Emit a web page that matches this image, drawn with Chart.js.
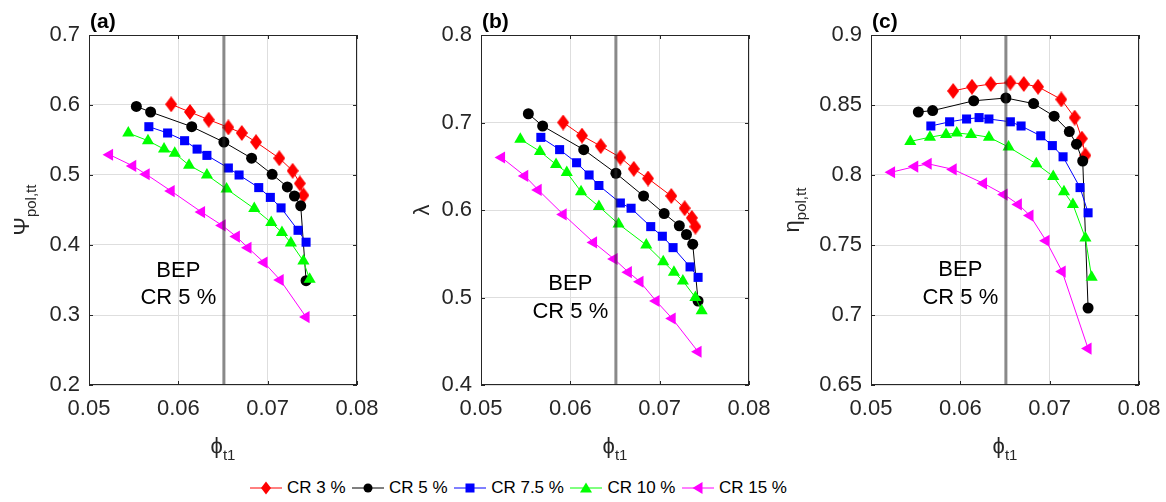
<!DOCTYPE html>
<html>
<head>
<meta charset="utf-8">
<script src="https://cdn.jsdelivr.net/npm/chart.js@4.4.0/dist/chart.umd.min.js"></script>
<style>
  body { margin: 0; background: #fff; width: 1166px; height: 502px; overflow: hidden; position: relative;
         font-family: "Liberation Sans", Arial, sans-serif; }
  canvas { position: absolute; top: 0; }
  #legend { position: absolute; left: 250px; top: 476px; height: 24px; display: flex; align-items: center;
            font-size: 17px; color: #000; white-space: nowrap; }
  #legend .item { display: flex; align-items: center; margin-right: 6.5px; }
  #legend svg { margin-right: 5px; }
</style>
</head>
<body>
<canvas id="pa" width="380" height="460" style="left:0px"></canvas>
<canvas id="pb" width="380" height="460" style="left:392px"></canvas>
<canvas id="pc" width="380" height="460" style="left:782px"></canvas>
<div id="legend"></div>

<script>
// axes
const xTicks = [0.05, 0.06, 0.07, 0.08];
const psiTicks = [0.2, 0.3, 0.4, 0.5, 0.6, 0.7];
const lambdaTicks = [0.4, 0.5, 0.6, 0.7, 0.8];
const etaTicks = [0.65, 0.7, 0.75, 0.8, 0.85, 0.9];

const seriesNames = ["CR 3 %", "CR 5 %", "CR 7.5 %", "CR 10 %", "CR 15 %"];
const bepPhi = 0.0651;

// flow coefficient phi_t1 of each operating point
const phiCR3  = [0.0592, 0.0613, 0.0634, 0.0656, 0.0671, 0.0687, 0.0713, 0.0728, 0.0736, 0.0740];
const phiCR5  = [0.0553, 0.0569, 0.0615, 0.0651, 0.0682, 0.0705, 0.0722, 0.0730, 0.0737, 0.0743];
const phiCR75 = [0.0567, 0.0588, 0.0607, 0.0621, 0.0632, 0.0656, 0.0668, 0.0690, 0.0703, 0.0715, 0.0734, 0.0743];
const phiCR10 = [0.0544, 0.0566, 0.0584, 0.0596, 0.0612, 0.0632, 0.0654, 0.0685, 0.0704, 0.0716, 0.0726, 0.0740, 0.0747];
const phiCR15 = [0.0523, 0.0549, 0.0564, 0.0592, 0.0626, 0.0649, 0.0665, 0.0678, 0.0696, 0.0714, 0.0743];

// (a) polytropic head coefficient
const psiCR3  = [0.601, 0.590, 0.579, 0.568, 0.560, 0.547, 0.524, 0.506, 0.488, 0.471];
const psiCR5  = [0.598, 0.590, 0.569, 0.547, 0.524, 0.501, 0.483, 0.470, 0.456, 0.349];
const psiCR75 = [0.569, 0.560, 0.549, 0.537, 0.528, 0.510, 0.500, 0.482, 0.468, 0.453, 0.421, 0.404];
const psiCR10 = [0.560, 0.549, 0.537, 0.531, 0.514, 0.500, 0.480, 0.452, 0.432, 0.418, 0.403, 0.377, 0.351];
const psiCR15 = [0.529, 0.513, 0.501, 0.477, 0.447, 0.428, 0.412, 0.396, 0.375, 0.350, 0.297];

// (b) work coefficient
const lamCR3  = [0.700, 0.685, 0.673, 0.660, 0.647, 0.636, 0.616, 0.602, 0.591, 0.581];
const lamCR5  = [0.710, 0.696, 0.669, 0.642, 0.616, 0.596, 0.582, 0.572, 0.561, 0.496];
const lamCR75 = [0.683, 0.669, 0.654, 0.640, 0.628, 0.608, 0.602, 0.581, 0.570, 0.557, 0.535, 0.523];
const lamCR10 = [0.681, 0.667, 0.652, 0.643, 0.621, 0.604, 0.584, 0.560, 0.541, 0.529, 0.519, 0.500, 0.485];
const lamCR15 = [0.660, 0.639, 0.623, 0.595, 0.563, 0.544, 0.529, 0.518, 0.496, 0.476, 0.438];

// (c) polytropic efficiency
const etaCR3  = [0.860, 0.863, 0.865, 0.866, 0.865, 0.863, 0.854, 0.841, 0.826, 0.814];
const etaCR5  = [0.845, 0.846, 0.853, 0.855, 0.851, 0.842, 0.831, 0.822, 0.810, 0.705];
const etaCR75 = [0.835, 0.838, 0.840, 0.841, 0.840, 0.838, 0.835, 0.828, 0.821, 0.813, 0.791, 0.773];
const etaCR10 = [0.824, 0.827, 0.829, 0.830, 0.829, 0.827, 0.820, 0.808, 0.799, 0.788, 0.779, 0.755, 0.727];
const etaCR15 = [0.802, 0.806, 0.808, 0.804, 0.794, 0.786, 0.779, 0.771, 0.753, 0.731, 0.676];

const phis = [phiCR3, phiCR5, phiCR75, phiCR10, phiCR15];

// tall matlab-like diamond
function diamondImage(w, h, color) {
  const c = document.createElement("canvas");
  c.width = w; c.height = h;
  const g = c.getContext("2d");
  g.fillStyle = color;
  g.beginPath();
  g.moveTo(w / 2, 0); g.lineTo(w, h / 2); g.lineTo(w / 2, h); g.lineTo(0, h / 2);
  g.closePath(); g.fill();
  return c;
}

const styles = [
  { color: "#ff0000", shape: diamondImage(12, 16, "#ff0000"), radius: 7, rot: 0 },
  { color: "#000000", shape: "circle",   radius: 5.5, rot: 0 },
  { color: "#0000ff", shape: "rect",     radius: 6.4, rot: 0 },
  { color: "#00ff00", shape: "triangle", radius: 7,   rot: 0 },
  { color: "#ff00ff", shape: "triangle", radius: 7,   rot: 270 }
];

const FONT = '"Liberation Sans", Arial, sans-serif';
const AX = "#262626";

const panels = [
  { id: "pa", tag: "(a)", sym: "\u03A8", sub: "pol,tt", ticks: psiTicks,
    ys: [psiCR3, psiCR5, psiCR75, psiCR10, psiCR15], note: [0.06, 0.363, 0.324] },
  { id: "pb", tag: "(b)", sym: "\u03BB", sub: "", ticks: lambdaTicks,
    ys: [lamCR3, lamCR5, lamCR75, lamCR10, lamCR15], note: [0.06, 0.515, 0.483] },
  { id: "pc", tag: "(c)", sym: "\u03B7", sub: "pol,tt", ticks: etaTicks,
    ys: [etaCR3, etaCR5, etaCR75, etaCR10, etaCR15], note: [0.06, 0.732, 0.712] }
];

// matlab style box, inward ticks, labels
const matlabLook = {
  id: "matlabLook",
  afterDraw(chart, args, o) {
    const ctx = chart.ctx;
    const a = chart.chartArea;
    const xs = chart.scales.x, ys = chart.scales.y;
    ctx.save();
    ctx.strokeStyle = AX;
    ctx.lineWidth = 1;
    ctx.strokeRect(Math.round(a.left) + 0.5, Math.round(a.top) + 0.5,
                   Math.round(a.right - a.left) - 1, Math.round(a.bottom - a.top) - 1);
    ctx.beginPath();
    xTicks.forEach(v => {
      const px = Math.round(xs.getPixelForValue(v)) + 0.5;
      ctx.moveTo(px, a.bottom); ctx.lineTo(px, a.bottom - 4);
      ctx.moveTo(px, a.top); ctx.lineTo(px, a.top + 4);
    });
    o.ticks.forEach(v => {
      const py = Math.round(ys.getPixelForValue(v)) + 0.5;
      ctx.moveTo(a.left, py); ctx.lineTo(a.left + 4, py);
      ctx.moveTo(a.right, py); ctx.lineTo(a.right - 4, py);
    });
    ctx.stroke();

    // panel tag
    ctx.fillStyle = "#000";
    ctx.font = "bold 21px " + FONT;
    ctx.textAlign = "left";
    ctx.textBaseline = "alphabetic";
    ctx.fillText(o.tag, a.left + 1, 28);

    // BEP note
    ctx.font = "22px " + FONT;
    ctx.textAlign = "center";
    ctx.textBaseline = "middle";
    const nx = xs.getPixelForValue(o.note[0]);
    ctx.fillText("BEP", nx, ys.getPixelForValue(o.note[1]));
    ctx.fillText("CR 5 %", nx, ys.getPixelForValue(o.note[2]));

    // x title
    ctx.fillStyle = AX;
    ctx.textAlign = "left";
    ctx.textBaseline = "alphabetic";
    ctx.font = "22px " + FONT;
    const w1 = ctx.measureText("\u03D5").width;
    ctx.font = "15px " + FONT;
    const w2 = ctx.measureText("t1").width;
    const cx = (a.left + a.right) / 2;
    ctx.font = "22px " + FONT;
    ctx.fillText("\u03D5", cx - (w1 + w2) / 2, 453);
    ctx.font = "15px " + FONT;
    ctx.fillText("t1", cx - (w1 + w2) / 2 + w1, 460);

    // y title
    ctx.font = "22px " + FONT;
    let tw = 0;
    o.ticks.forEach(v => { tw = Math.max(tw, ctx.measureText(String(v)).width); });
    const s1 = ctx.measureText(o.sym).width;
    ctx.font = "15px " + FONT;
    const s2 = o.sub ? ctx.measureText(o.sub).width : 0;
    const base = a.left - 9 - tw - (o.sub ? 20 : 12);
    ctx.translate(base, (a.top + a.bottom) / 2);
    ctx.rotate(-Math.PI / 2);
    ctx.font = "22px " + FONT;
    ctx.fillText(o.sym, -(s1 + s2) / 2, 0);
    if (o.sub) {
      ctx.font = "15px " + FONT;
      ctx.fillText(o.sub, -(s1 + s2) / 2 + s1, 7);
    }
    ctx.restore();
  }
};

panels.forEach(p => {
  const yMin = p.ticks[0], yMax = p.ticks[p.ticks.length - 1];
  const datasets = p.ys.map((vals, i) => ({
    label: seriesNames[i],
    data: vals.map((v, k) => ({ x: phis[i][k], y: v })),
    borderColor: styles[i].color,
    backgroundColor: styles[i].color,
    borderWidth: 1,
    pointStyle: styles[i].shape,
    pointRadius: styles[i].radius,
    pointRotation: styles[i].rot,
    pointBorderWidth: 0,
    order: 5 - i
  }));
  datasets.push({
    label: "BEP",
    data: [{ x: bepPhi, y: yMin }, { x: bepPhi, y: yMax }],
    borderColor: "rgba(40,40,40,0.55)",
    borderWidth: 3,
    pointRadius: 0,
    order: 0
  });

  new Chart(document.getElementById(p.id), {
    type: "line",
    data: { datasets },
    plugins: [matlabLook],
    options: {
      responsive: false,
      animation: false,
      devicePixelRatio: 1,
      layout: { padding: { top: 35, right: 23, left: 0, bottom: 0 } },
      plugins: {
        legend: { display: false },
        tooltip: { enabled: false },
        matlabLook: { tag: p.tag, sym: p.sym, sub: p.sub, ticks: p.ticks, note: p.note }
      },
      scales: {
        x: {
          type: "linear", min: 0.05, max: 0.08,
          afterBuildTicks: s => { s.ticks = xTicks.map(v => ({ value: v })); },
          afterFit: s => { s.height = 75; s.paddingLeft = 0; s.paddingRight = 0; },
          ticks: { color: AX, font: { family: FONT, size: 22 }, padding: 11, maxRotation: 0,
                   callback: v => String(v) },
          grid: { color: "#dedede", drawTicks: false, tickLength: 0 },
          border: { display: false }
        },
        y: {
          type: "linear", min: yMin, max: yMax,
          afterBuildTicks: s => { s.ticks = p.ticks.map(v => ({ value: v })); },
          afterFit: s => { s.width = 89; s.paddingTop = 0; s.paddingBottom = 0; },
          ticks: { color: AX, font: { family: FONT, size: 22 }, padding: 9,
                   callback: v => String(v) },
          grid: { color: "#dedede", drawTicks: false, tickLength: 0 },
          border: { display: false }
        }
      }
    }
  });
});

// legend
function markerSvg(i, cx, cy) {
  const c = styles[i].color;
  if (i === 0) return `<polygon points="${cx},${cy - 6.5} ${cx + 5},${cy} ${cx},${cy + 6.5} ${cx - 5},${cy}" fill="${c}"/>`;
  if (i === 1) return `<circle cx="${cx}" cy="${cy}" r="4.5" fill="${c}"/>`;
  if (i === 2) return `<rect x="${cx - 4.5}" y="${cy - 4.5}" width="9" height="9" fill="${c}"/>`;
  if (i === 3) return `<polygon points="${cx},${cy - 5.5} ${cx + 6},${cy + 4.5} ${cx - 6},${cy + 4.5}" fill="${c}"/>`;
  return `<polygon points="${cx - 5.5},${cy} ${cx + 4.5},${cy - 6} ${cx + 4.5},${cy + 6}" fill="${c}"/>`;
}
const legend = document.getElementById("legend");
seriesNames.forEach((name, i) => {
  const item = document.createElement("div");
  item.className = "item";
  item.innerHTML = `<svg width="32" height="20"><line x1="0" y1="10" x2="32" y2="10" stroke="${styles[i].color}" stroke-width="1"/>${markerSvg(i, 16, 10)}</svg><span>${name}</span>`;
  legend.appendChild(item);
});
</script>
</body>
</html>
